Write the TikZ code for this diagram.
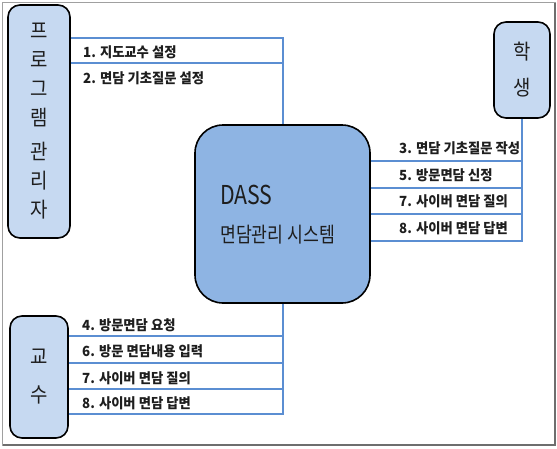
\documentclass[tikz,border=0pt]{standalone}
\usepackage{fontspec}
\newfontfamily\krn[FakeStretch=0.82]{Noto Sans CJK KR}
\newfontfamily\krl[FakeStretch=0.9]{Noto Sans CJK KR}
\newfontfamily\krb[FakeStretch=0.95]{Noto Sans CJK KR}
\definecolor{boxblue}{RGB}{198,217,241}
\definecolor{dassblue}{RGB}{142,180,227}
\definecolor{lineblue}{RGB}{91,142,210}
\definecolor{framegray}{RGB}{160,160,160}
\definecolor{shadowgray}{RGB}{110,110,110}
\definecolor{txt}{RGB}{30,30,30}
\tikzset{
  box/.style={draw=black, line width=1.6pt, rounded corners=12pt, fill=boxblue, inner sep=0pt, align=center, text=txt},
  conn/.style={draw=lineblue, line width=1.2pt},
  lbl/.style={anchor=west, inner sep=0pt, text=txt, font=\krb\bfseries\fontsize{14}{16}\selectfont},
}
\begin{document}
\begin{tikzpicture}[x=1pt,y=-1pt]
\path[use as bounding box] (0,0) rectangle (557,448);
\draw[framegray, line width=0.8pt] (2,2) rectangle (555,445);
\draw[shadowgray, line width=2pt] (555,3) -- (555,445) -- (3,445);

% boxes
\node[box, minimum width=62pt, minimum height=233pt,
      font=\krl\fontsize{21}{29}\selectfont] (admin) at (39,121.5)
      {프\\로\\그\\램\\[5pt]관\\리\\자};
\node[box, minimum width=56pt, minimum height=96pt,
      font=\krl\fontsize{21}{36}\selectfont] (student) at (522,70) {학\\생};
\node[box, minimum width=58pt, minimum height=122pt,
      font=\krl\fontsize{21}{38}\selectfont] (prof) at (39,377) {교\\수};
\node[box, fill=dassblue, rounded corners=28pt, minimum width=175pt, minimum height=178pt] (dass) at (282.5,214) {};
\node[anchor=west, inner sep=0pt, text=txt, font=\krn\fontsize{26}{30}\selectfont] (dassA) at (220,195) {DASS};
\node[anchor=west, inner sep=0pt, text=txt, font=\krn\fontsize{21}{25}\selectfont] (dassB) at (220,235) {면담관리 시스템};

% junction coordinates
\coordinate (ja) at (283,38);
\coordinate (jb) at (283,63);
\coordinate (s3) at (522,161);
\coordinate (s5) at (522,188);
\coordinate (s7) at (522,214);
\coordinate (s8) at (522,241);
\coordinate (p4) at (283,336);
\coordinate (p6) at (283,363);
\coordinate (p7) at (283,389);
\coordinate (p8) at (283,414);

% connectors
\draw[conn] (admin.east |- ja) -- (ja) -- (dass.north -| ja);
\draw[conn] (admin.east |- jb) -- (jb);
\draw[conn] (student.south) -- (s8) -- (dass.east |- s8);
\draw[conn] (dass.east |- s3) -- (s3);
\draw[conn] (dass.east |- s5) -- (s5);
\draw[conn] (dass.east |- s7) -- (s7);
\draw[conn] (dass.south -| p8) -- (p8) -- (prof.east |- p8);
\draw[conn] (prof.east |- p4) -- (p4);
\draw[conn] (prof.east |- p6) -- (p6);
\draw[conn] (prof.east |- p7) -- (p7);

% labels
\node[lbl] (l1) at (83,52) {1. 지도교수 설정};
\node[lbl] (l2) at (83,78) {2. 면담 기초질문 설정};
\node[lbl] (l3) at (399,148) {3. 면담 기초질문 작성};
\node[lbl] (l5) at (399,175) {5. 방문면담 신정};
\node[lbl] (l7s) at (399,201) {7. 사이버 면담 질의};
\node[lbl] (l8s) at (399,228) {8. 사이버 면담 답변};
\node[lbl] (l4) at (82,325.5) {4. 방문면담 요청};
\node[lbl] (l6) at (82,351) {6. 방문 면담내용 입력};
\node[lbl] (l7p) at (82,378) {7. 사이버 면담 질의};
\node[lbl] (l8p) at (82,403) {8. 사이버 면담 답변};
\end{tikzpicture}
\end{document}
